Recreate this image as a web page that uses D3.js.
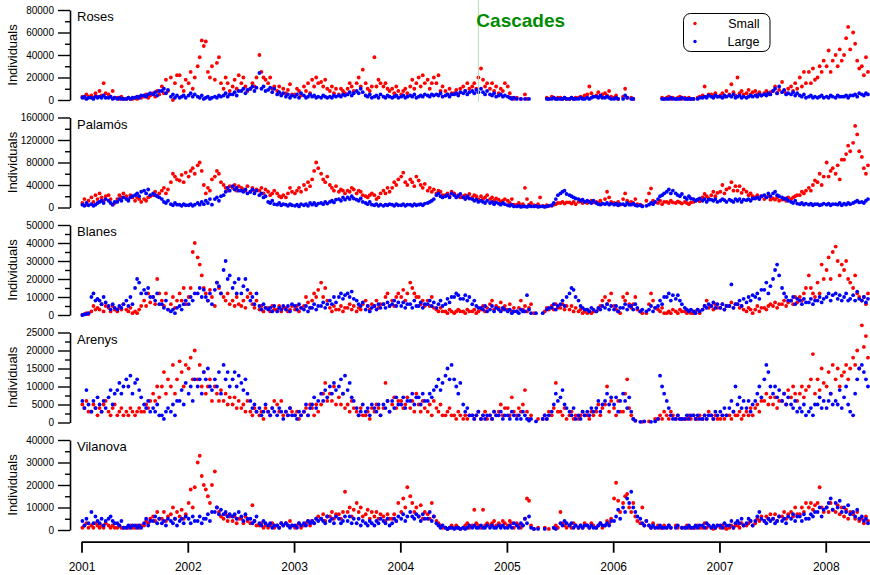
<!DOCTYPE html>
<html>
<head>
<meta charset="utf-8">
<script src="https://cdn.jsdelivr.net/npm/d3@7"></script>
<style>
  body { margin: 0; background: #fff; }
  svg { display: block; font-family: "Liberation Sans", Arial, sans-serif; }
</style>
</head>
<body>
<svg id="chart" width="870" height="575"></svg>
<script>
// sites, top to bottom
const sites = ["Roses", "Palamós", "Blanes", "Arenys", "Vilanova"];
const seriesNames = ["Small", "Large"];
const seriesColors = ["#ff0000", "#0000ff"];

// y tick labels per panel (major, labelled) and minor ticks
const yTicks = [
  [0, 20000, 40000, 60000, 80000],
  [0, 40000, 80000, 120000, 160000],
  [0, 10000, 20000, 30000, 40000, 50000],
  [0, 5000, 10000, 15000, 20000, 25000],
  [0, 10000, 20000, 30000, 40000]
];
const yMinorTicks = [
  [10000, 30000, 50000, 70000],
  [20000, 60000, 100000, 140000],
  [5000, 15000, 25000, 35000, 45000],
  [2500, 7500, 12500, 17500, 22500],
  [5000, 15000, 25000, 35000]
];
const yearTicks = [2001, 2002, 2003, 2004, 2005, 2006, 2007, 2008];
const cascadesDate = "2004-09-25";

// weekly counts (thousands of individuals), 4 per month, Jan 2001 - May 2008
const rosesSmall = [
  3,2,5,3, 4,2,6,3, 8,4,15,6, 5,3,8,2, 2,1,3,1, 1,2,1,1, 2,1,3,2, 3,5,2,4, 6,3,8,5, 12,6,18,8, 20,0,15,22, 22,12,8,18,
  15,25,10,20, 30,38,53,48, 52,25,20,30, 18,33,38,15, 10,20,15,8, 12,18,10,22, 15,20,12,8, 10,15,12,20, 40,25,20,18, 15,20,10,12, 8,12,5,10, 6,9,14,5,
  5,10,8,4, 12,8,15,6, 18,12,20,15, 16,12,18,10, 8,12,6,10, 5,10,8,6, 10,15,12,8, 15,20,12,27, 15,10,8,12, 38,12,18,15, 12,15,10,8, 10,6,12,8,
  5,8,10,6, 12,18,10,15, 20,12,22,15, 18,10,15,20, 15,22,8,12, 8,5,10,6, 6,9,5,10, 12,8,15,10, 12,15,10,20, 28,18,12,15, 10,15,8,12, 6,10,8,15,
  12,6,2,1, 2,null,1,null, 5,1,null,null, null,null,null,null, null,null,2,1, 3,2,1,2, 2,1,2,1, 1,2,1,2, 2,3,2,4, 5,12,6,3, 4,7,3,5, 6,4,8,3,
  2,4,1,null, 3,10,2,null, 2,1,null,null, null,null,null,null, null,null,null,null, null,null,2,1, 2,3,1,2, 1,2,3,1, 2,1,2,1, 1,null,2,3, 4,12,3,5, 5,4,6,3,
  4,6,3,8, 5,14,7,4, 20,6,8,5, 6,9,5,7, 8,5,7,4, 6,8,5,7, 8,12,6,9, 16,8,6,10, 12,8,15,10, 20,12,25,15, 25,15,28,18, 20,30,25,35,
  30,44,25,35, 40,30,45,35, 40,55,65,45, 60,50,35,28, 30,22,38,25
];
const rosesLarge = [
  2,3,1,2, 2,1,3,2, 3,2,4,2, 2,3,1,2, 1,2,1,1, 1,2,1,2, 2,3,2,4, 4,3,5,6, 5,7,4,8, 8,10,6,9, 3,5,2,4, 2,3,4,2,
  4,6,3,5, 3,2,4,1, 2,3,1,2, 3,2,4,3, 4,6,3,5, 5,7,4,8, 8,10,6,9, 10,12,8,11, 24,10,12,8, 9,11,7,10, 5,7,4,6, 3,5,2,4,
  3,5,2,6, 4,2,3,5, 3,4,2,3, 2,4,3,2, 3,2,4,3, 4,3,5,4, 5,7,4,6, 8,6,10,7, 4,3,5,2, 3,4,2,5, 3,2,4,3, 2,3,4,2,
  3,4,2,3, 4,3,5,2, 3,4,3,5, 4,3,5,4, 5,4,6,3, 4,5,3,5, 5,6,4,7, 6,8,5,7, 8,6,9,7, 10,7,5,8, 5,4,6,3, 4,5,3,4,
  3,2,1,2, 1,null,1,null, 1,null,1,null, null,null,null,null, null,null,1,1, 1,2,1,1, 1,1,2,1, 1,2,1,1, 1,2,1,1, 2,1,2,3, 3,2,4,2, 2,3,2,1,
  1,2,1,null, 1,4,2,null, 1,1,null,null, null,null,null,null, null,null,null,null, null,null,1,1, 1,1,2,1, 1,1,1,2, 1,1,1,1, 1,null,1,2, 2,3,2,4, 3,2,4,3,
  3,2,4,3, 4,3,5,2, 3,4,2,3, 2,3,4,3, 4,3,5,4, 5,4,6,5, 8,10,6,12, 7,9,5,6, 5,7,4,6, 4,3,5,2, 3,4,2,3, 2,3,4,2,
  3,2,4,3, 2,4,3,3, 3,4,2,4, 4,5,3,6, 5,4,6,5
];
const palamosSmall = [
  8,15,5,12, 18,10,22,15, 25,18,12,20, 22,15,5,8, 15,22,18,25, 20,15,22,18, 12,18,15,10, 15,12,18,20, 22,28,20,25, 30,35,25,32, 45,60,55,50, 48,58,45,62,
  55,65,70,60, 75,80,65,40, 25,35,30,50, 55,65,60,45, 40,35,30,38, 35,40,30,38, 35,32,30,38, 28,35,30,32, 30,35,25,32, 28,22,25,30, 25,20,18,22, 18,25,35,28,
  25,30,35,28, 40,32,45,38, 50,65,80,70, 60,50,45,55, 40,35,30,38, 28,32,30,25, 30,28,35,32, 25,30,28,22, 20,18,22,25, 22,15,18,25, 30,25,35,28, 35,45,40,50,
  55,62,45,40, 50,45,38,55, 48,40,35,42, 30,35,28,32, 25,30,28,22, 22,25,20,28, 25,20,22,18, 20,22,18,24, 18,22,20,15, 20,15,18,22, 15,18,12,16, 14,10,12,15,
  12,8,15,5, 5,8,4,6, 35,15,5,8, 4,3,6,18, 3,2,4,3, 3,5,6,8, 8,10,7,9, 9,7,10,6, 10,12,8,10, 8,10,12,9, 10,8,12,7, 15,28,18,10,
  8,6,10,5, 15,25,12,8, 10,8,15,6, 5,3,null,12, 25,34,12,10, 8,12,6,10, 10,8,12,9, 8,11,9,7, 10,8,6,9, 10,12,14,11, 18,24,20,16, 22,28,20,26,
  28,40,25,32, 35,45,30,38, 30,38,26,32, 28,22,25,20, 18,22,16,20, 15,18,20,14, 16,14,18,12, 14,16,12,18, 15,18,20,22, 22,28,25,30, 35,30,40,48, 45,60,40,55,
  80,55,65,70, 60,75,50,85, 85,95,110,100, 115,145,130,100, 90,70,60,75
];
const palamosLarge = [
  5,3,8,4, 6,3,5,8, 10,12,8,15, 12,8,5,10, 10,15,12,18, 15,12,18,20, 22,25,20,28, 30,25,32,22, 25,22,20,18, 15,10,8,12, 6,4,8,5, 5,3,6,4,
  4,6,3,5, 8,5,10,6, 12,8,15,5, 15,18,12,20, 22,28,35,30, 38,32,35,30, 30,28,32,25, 28,32,25,30, 22,25,18,20, 10,8,12,6, 5,8,4,6, 5,3,6,4,
  3,5,2,6, 4,6,3,8, 5,8,4,7, 8,6,10,7, 10,12,9,14, 15,12,18,14, 18,15,20,16, 14,12,16,10, 8,6,10,5, 4,6,3,5, 3,5,4,6, 5,3,6,4,
  4,6,3,5, 5,3,6,4, 5,6,4,7, 8,10,12,15, 22,25,20,18, 20,22,18,25, 22,18,20,24, 18,15,20,16, 15,12,14,10, 12,10,8,12, 8,10,6,9, 7,5,8,6,
  4,3,5,2, 2,3,1,2, 2,1,3,2, 2,3,1,2, 2,1,2,3, 4,8,15,22, 25,28,30,24, 22,20,18,16, 15,12,14,10, 12,10,8,12, 8,6,5,7, 6,8,5,7,
  5,7,4,6, 6,4,8,5, 5,7,4,3, 4,2,null,3, 5,8,6,10, 15,20,22,25, 28,32,25,30, 25,22,20,24, 18,15,20,16, 15,12,14,16, 12,15,10,14, 14,12,15,10,
  12,15,13,10, 14,12,10,15, 12,15,10,14, 13,15,12,16, 16,18,15,20, 22,18,25,20, 25,28,22,20, 18,15,16,12, 10,8,12,7, 6,8,5,7, 5,7,4,6, 6,4,5,7,
  5,7,4,6, 6,5,8,4, 7,5,8,6, 8,10,12,9, 10,8,12,15
];
const blanesSmall = [
  0,0.5,1,0.5, 2,5,3,4, 3,6,2,5, 4,2,5,3, 2,4,3,6, 3,2,4,1, 2,1,3,5, 8,5,12,7, 10,6,20,12, 8,5,12,3, 6,10,4,8, 12,8,15,6,
  10,15,35,40, 32,28,22,15, 12,8,14,10, 5,18,15,12, 10,8,12,6, 8,5,10,6, 5,8,4,10, 12,6,4,8, 3,5,2,4, 4,2,5,3, 3,5,2,4, 4,2,3,5,
  3,5,2,4, 5,10,7,4, 8,12,10,14, 18,10,15,8, 4,2,5,3, 3,5,2,4, 4,6,3,5, 2,4,3,6, 8,5,3,6, 5,8,4,6, 6,10,12,5, 8,5,10,12,
  10,14,8,12, 18,15,12,10, 10,6,8,5, 8,5,10,4, 3,2,4,2, 2,1,3,2, 1,2,3,2, 2,1,3,2, 2,3,1,2, 3,5,2,4, 6,8,3,5, 4,7,3,5,
  3,6,2,4, 2,4,8,3, 5,2,4,6, 1,null,null,null, null,2,4,3, 5,3,6,4, 4,6,3,5, 3,5,2,4, 2,3,1,2, 1,2,1,2, 2,3,5,8, 10,6,8,12,
  5,3,2,1, 10,8,12,6, 4,6,10,3, 2,1,null,1, 6,12,8,4, 3,2,4,1, 1,2,1,3, 2,1,3,2, 2,1,2,1, 1,2,3,1, 3,5,8,4, 5,3,6,4,
  4,6,3,5, 5,7,4,6, 6,4,5,3, 2,4,3,1, 3,5,2,4, 4,3,5,6, 5,7,4,6, 6,8,5,7, 8,6,10,7, 10,8,12,15, 22,15,12,10, 18,12,28,20,
  25,32,20,35, 38,30,22,28, 25,30,20,18, 15,22,12,10, 8,10,6,12
];
const blanesLarge = [
  0,0.3,0.5,1, 10,12,8,9, 8,6,10,7, 5,3,6,4, 3,5,4,6, 8,5,10,6, 15,20,18,12, 14,12,15,10, 10,8,12,6, 6,4,8,3, 2,3,1,4, 5,3,6,8,
  6,10,8,12, 12,15,10,14, 10,8,12,6, 14,18,16,12, 25,30,20,22, 15,18,12,20, 12,16,20,14, 8,10,6,12, 5,3,6,4, 3,4,2,5, 2,4,3,5, 3,5,2,6,
  5,3,6,4, 3,5,2,4, 4,6,3,5, 5,7,4,6, 8,6,10,7, 10,12,9,11, 12,10,13,9, 8,6,5,7, 3,5,2,4, 5,3,6,4, 6,4,7,5, 6,8,5,7,
  5,7,4,6, 6,4,8,5, 5,7,4,6, 6,8,5,7, 4,6,8,5, 6,9,7,10, 10,12,11,9, 9,11,8,10, 6,8,5,4, 4,3,5,2, 3,5,2,4, 3,2,4,3,
  2,3,1,2, 2,1,3,2, 2,11,3,1, null,1,null,null, 1,null,3,4, 4,6,3,5, 6,8,5,10, 12,15,14,10, 8,5,4,3, 3,2,4,3, 2,4,3,5, 4,6,3,5,
  3,5,2,4, 4,6,3,5, 5,3,6,4, 2,3,null,2, 3,5,2,4, 5,8,6,10, 10,12,8,11, 9,11,8,6, 4,3,2,3, 2,1,3,2, 3,5,4,6, 5,7,4,6,
  4,6,3,5, 5,17,4,6, 6,8,5,9, 7,10,8,11, 10,12,9,14, 14,18,12,16, 20,25,28,22, 15,12,10,8, 8,10,6,9, 8,6,9,7, 7,9,6,8, 8,10,7,9,
  10,12,8,11, 12,9,11,8, 10,12,8,9, 11,8,13,9, 8,10,7,9
];
const arenysSmall = [
  5,4,6,3, 3,5,4,2, 4,3,5,6, 3,2,4,5, 2,3,4,2, 3,2,4,3, 2,3,4,3, 3,5,4,6, 8,6,10,7, 10,14,8,12, 10,16,8,12, 17,14,10,16,
  15,18,12,20, 12,16,10,14, 8,10,12,6, 10,8,6,9, 6,8,5,7, 5,7,4,6, 4,5,3,6, 3,2,4,3, 2,3,1,4, 3,2,4,6, 5,3,6,2, 3,2,4,3,
  2,3,1,2, 3,4,2,5, 4,2,5,3, 5,8,11,6, 8,6,10,5, 7,5,8,4, 5,3,6,4, 3,2,4,2, 2,3,1,4, 3,5,4,2, 4,11,6,3, 5,7,4,6,
  6,4,5,7, 4,6,3,8, 5,3,6,4, 3,5,2,6, 4,3,5,2, 2,3,4,2, 2,1,3,2, 1,2,1,2, 2,1,2,3, 1,2,3,1, 2,1,3,2, 3,5,2,4,
  4,2,7,3, 2,4,3,5, 9,3,1,2, null,null,1,null, 1,2,1,3, 2,4,11,3, 3,2,4,1, 2,3,1,2, 1,2,3,2, 2,1,3,2, 3,5,2,4, 5,10,3,6,
  4,2,6,3, 3,8,12,4, 2,1,0.5,null, null,0.2,null,null, 0.3,null,null,1, 1,2,1,3, 2,1,3,2, 1,2,1,1, 1,1,2,1, 2,1,1,2, 1,2,1,3, 2,1,2,1,
  1,2,1,2, 2,1,3,2, 2,3,1,2, 3,2,4,2, 4,5,3,6, 6,8,5,7, 5,7,4,6, 6,8,5,9, 7,10,8,6, 8,10,7,9, 10,12,19,8, 12,9,15,11,
  10,14,8,16, 12,15,10,13, 14,16,12,15, 18,16,20,15, 27,21,24,18
];
const arenysLarge = [
  6,4,9,5, 3,6,4,7, 5,3,6,4, 7,9,5,8, 9,11,8,10, 12,10,13,8, 11,12,9,7, 5,4,6,3, 4,3,5,2, 2,1,3,4, 3,5,2,6, 6,9,5,11,
  8,10,6,12, 10,12,8,14, 12,15,10,9, 12,10,14,8, 16,12,14,10, 12,14,10,13, 11,9,12,8, 6,4,5,3, 4,2,3,5, 3,2,4,3, 2,4,3,1, 3,2,4,2,
  2,1,3,2, 3,5,2,4, 5,7,4,6, 8,6,9,7, 10,8,11,9, 10,12,8,13, 9,11,7,6, 4,2,3,5, 3,4,2,5, 4,3,5,2, 5,4,6,3, 6,4,7,5,
  5,7,4,6, 6,8,5,7, 7,5,8,6, 6,8,7,9, 10,12,9,11, 13,15,12,16, 12,10,8,11, 5,3,4,2, 2,1,2,3, 1,2,1,2, 2,1,3,2, 2,3,1,2,
  2,1,3,2, 1,2,1,3, 2,1,0.5,1, null,0.3,null,null, 1,2,1,2, 3,5,8,6, 7,9,5,4, 3,2,4,1, 2,1,3,2, 3,2,4,3, 4,6,3,5, 6,8,5,7,
  5,7,3,6, 8,6,4,7, 3,1,0.5,null, 0.2,null,0.3,null, null,0.2,null,0.3, 1,13,10,8, 6,4,2,1, 1,2,1,1, 1,2,1,2, 2,1,2,1, 1,2,1,2, 2,1,3,2,
  3,2,4,2, 4,6,3,10, 5,7,4,6, 4,6,3,5, 6,8,10,7, 12,16,14,10, 8,10,7,9, 6,8,5,7, 5,4,6,3, 4,3,5,2, 3,4,2,5, 5,7,4,6,
  4,6,8,5, 6,5,9,4, 7,10,5,3, 2,8,12,15, 16,14,12,10
];
const vilanovaSmall = [
  1,2,3,1, 2,1,3,2, 1,2,1,3, 2,1,2,1, 1,2,1,1, 1,1,2,1, 1,2,1,2, 2,4,3,5, 6,4,8,5, 5,8,4,6, 7,10,5,8, 6,9,5,7,
  12,18,10,19, 30,33,24,20, 18,15,12,20, 26,10,8,6, 5,7,4,6, 4,6,3,5, 5,3,6,4, 3,11,4,2, 2,3,1,2, 1,2,3,1, 2,1,3,2, 3,2,4,2,
  1,2,3,1, 2,3,4,2, 4,3,5,6, 5,7,4,6, 6,8,5,7, 7,5,8,17, 8,10,6,9, 12,8,10,6, 7,9,5,8, 6,8,5,7, 6,4,7,5, 5,7,4,12,
  8,14,10,19, 15,12,8,10, 6,11,5,8, 7,5,12,6, 4,3,2,1, 1,0.5,1,2, 1,2,1,0.5, 1,2,3,1, 2,9,3,2, 1,9,2,3, 2,3,4,2, 3,2,4,3,
  2,4,3,1, 3,2,1,2, 5,14,13,2, 0.5,null,1,null, null,1,null,0.5, null,1,2,1, 8,3,2,1, 2,1,3,2, 1,2,1,3, 2,1,3,2, 1,2,3,1, 2,4,3,5,
  14,21,13,8, 12,15,16,10, 8,12,6,4, 3,10,2,4, 2,1,3,1, 2,1,1,2, 1,2,1,null, 2,1,null,1, 1,2,1,1, 1,1,2,1, 1,3,1,2, 1,0.5,1,2,
  1,2,1,0.5, 1,2,1,2, 2,1,3,2, 2,3,4,2, 3,5,4,6, 4,6,5,7, 5,7,4,6, 6,8,5,7, 8,6,10,7, 7,10,8,12, 10,12,9,11, 12,19,10,8,
  10,8,12,9, 8,11,7,10, 6,9,5,8, 7,5,8,4, 5,3,6,4
];
const vilanovaLarge = [
  4,2,5,3, 8,3,6,4, 3,5,2,4, 5,6,4,3, 3,2,4,1, 1,2,1,2, 2,1,2,1, 3,5,2,4, 4,6,3,5, 3,4,2,5, 4,3,5,2, 4,5,3,6,
  5,3,6,4, 4,6,3,5, 5,7,4,8, 8,10,7,9, 7,8,6,7, 6,7,5,8, 6,4,7,5, 5,3,4,6, 3,2,4,3, 2,3,1,2, 2,1,3,2, 3,2,1,2,
  2,1,3,2, 3,2,4,3, 4,3,5,4, 5,4,3,6, 4,5,3,6, 5,3,4,6, 4,6,3,5, 3,5,2,4, 3,2,4,3, 2,4,3,5, 4,3,5,2, 3,5,4,6,
  5,7,4,6, 8,6,5,7, 6,4,7,5, 5,8,4,6, 3,2,1,2, 1,0.5,1,1, 0.5,1,1,0.5, 1,0.5,1,2, 1,2,1,1, 2,1,1,2, 1,2,1,1, 2,1,2,1,
  1,2,1,3, 2,1,3,2, 5,3,6,1, 0.5,null,0.5,null, null,0.5,null,null, null,1,0.5,null, 3,2,4,3, 2,3,1,2, 1,2,1,2, 2,1,2,1, 1,2,3,2, 2,3,2,4,
  4,6,9,5, 10,8,14,12, 17,10,8,6, 5,3,2,4, 2,1,2,1, 1,2,1,1, 1,2,1,null, 1,2,null,1, 1,1,2,1, 1,2,1,2, 2,1,3,2, 1,2,1,2,
  2,1,3,2, 2,4,1,3, 4,3,5,2, 3,5,4,2, 4,6,8,5, 4,3,5,4, 5,3,4,6, 4,5,3,6, 5,7,4,6, 6,4,7,5, 5,7,6,8, 8,10,6,9,
  10,12,14,9, 12,10,13,8, 10,8,11,7, 8,6,9,5, 6,4,5,3
];

const smallSeries = [rosesSmall, palamosSmall, blanesSmall, arenysSmall, vilanovaSmall];
const largeSeries = [rosesLarge, palamosLarge, blanesLarge, arenysLarge, vilanovaLarge];

// sanity check on the weekly arrays
const nWeeks = 356;
[...smallSeries, ...largeSeries].forEach((s, i) => {
  if (s.length !== nWeeks) throw new Error("series " + i + " has " + s.length + " values");
});

// week index -> date (4th, 11th, 18th, 25th of each month)
const weekDate = i => new Date(2001, Math.floor(i / 4), 4 + (i % 4) * 7);

const svg = d3.select("#chart");
const fontFamily = '"Liberation Sans", Arial, sans-serif';

const x = d3.scaleTime()
  .domain([new Date(2001, 0, 1), new Date(2008, 5, 1)])
  .range([81.5, 870]);

const panelTop = 10, panelStep = 107.5, panelH = 90, axisX = 70;

sites.forEach((site, p) => {
  const top = panelTop + p * panelStep;
  const y = d3.scaleLinear()
    .domain([0, d3.max(yTicks[p])])
    .range([top + panelH, top]);

  // y axis, labelled ticks
  const ax = svg.append("g")
    .attr("transform", `translate(${axisX},0)`)
    .call(d3.axisLeft(y).tickValues(yTicks[p]).tickSize(12).tickSizeOuter(0)
      .tickPadding(4).tickFormat(d3.format("d")));
  ax.attr("font-family", fontFamily).attr("font-size", 10);
  ax.select(".domain").attr("stroke", "#000").attr("stroke-width", 1.6);
  ax.selectAll(".tick line").attr("stroke", "#000").attr("stroke-width", 1.4);
  ax.selectAll(".tick text").attr("fill", "#000");

  // minor ticks
  const mx = svg.append("g")
    .attr("transform", `translate(${axisX},0)`)
    .call(d3.axisLeft(y).tickValues(yMinorTicks[p]).tickSize(5).tickFormat(""));
  mx.select(".domain").remove();
  mx.selectAll(".tick line").attr("stroke", "#000").attr("stroke-width", 1.4);

  // site name
  svg.append("text")
    .attr("x", 77).attr("y", top + 11)
    .attr("font-size", 13).attr("font-family", fontFamily)
    .text(site);

  // y label
  svg.append("text")
    .attr("transform", `translate(16.5,${top + panelH / 2}) rotate(-90)`)
    .attr("text-anchor", "middle")
    .attr("font-size", 13).attr("font-family", fontFamily)
    .text("Individuals");

  // points: small (red) then large (blue) on top
  [smallSeries[p], largeSeries[p]].forEach((series, s) => {
    const pts = series.map((v, i) => ({ date: weekDate(i), value: v }))
      .filter(d => d.value !== null);
    svg.append("g")
      .attr("fill", seriesColors[s])
      .selectAll("circle")
      .data(pts)
      .join("circle")
      .attr("cx", d => x(d.date))
      .attr("cy", d => y(d.value * 1000))
      .attr("r", 1.9);
  });
});

// x axis
const xAxisY = 541.7;
const xa = svg.append("g")
  .attr("transform", `translate(0,${xAxisY})`)
  .call(d3.axisBottom(x)
    .tickValues(yearTicks.map(yr => new Date(yr, 0, 1)))
    .tickSize(11).tickSizeOuter(0).tickPadding(10)
    .tickFormat(d3.timeFormat("%Y")));
xa.attr("font-family", fontFamily).attr("font-size", 12);
xa.select(".domain").attr("stroke", "#000").attr("stroke-width", 1.8);
xa.selectAll(".tick line").attr("stroke", "#000").attr("stroke-width", 1.8);
xa.selectAll(".tick text").attr("fill", "#000");

// cascades event
const cx = x(d3.timeParse("%Y-%m-%d")(cascadesDate));
svg.append("line")
  .attr("x1", cx).attr("x2", cx).attr("y1", 0).attr("y2", 102)
  .attr("stroke", "#b2dfb2").attr("stroke-width", 1);
svg.append("text")
  .attr("x", cx - 2).attr("y", 27)
  .attr("font-size", 19).attr("font-weight", "bold")
  .attr("font-family", fontFamily).attr("fill", "#008b00")
  .text("Cascades");

// legend
const legend = svg.append("g").attr("transform", "translate(683.5,13.5)");
legend.append("rect")
  .attr("width", 86.5).attr("height", 38).attr("rx", 7)
  .attr("fill", "#fff").attr("stroke", "#000").attr("stroke-width", 1);
seriesNames.forEach((name, i) => {
  legend.append("circle")
    .attr("cx", 11.5).attr("cy", 10 + i * 18).attr("r", 1.7)
    .attr("fill", seriesColors[i]);
  legend.append("text")
    .attr("x", 76).attr("y", 14.5 + i * 18)
    .attr("text-anchor", "end")
    .attr("font-size", 12.5).attr("font-family", fontFamily)
    .text(name);
});
</script>
</body>
</html>
